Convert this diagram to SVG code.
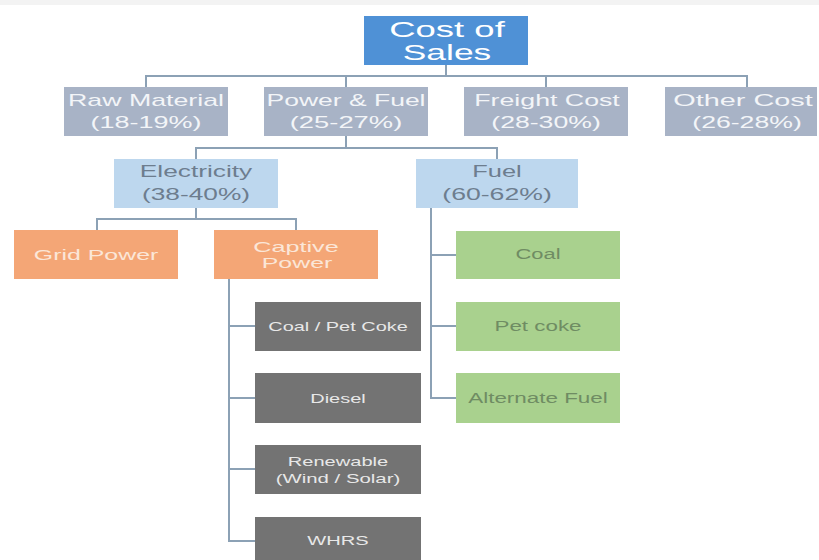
<svg xmlns="http://www.w3.org/2000/svg" width="819" height="560" viewBox="0 0 819 560">
<style>
text{font-family:"Liberation Sans",Arial,sans-serif;text-anchor:middle}
.conn{fill:none;stroke:#8ca1b5;stroke-width:2}
.top rect{fill:#4f91d6}
.top text{fill:#ffffff;font-size:22px}
.l2 rect{fill:#a8b3c6}
.l2 text{fill:#f3f5f8;font-size:16px}
.l3 rect{fill:#bdd7ee}
.l3 text{fill:#6d7d8e;font-size:17px}
.or rect{fill:#f4a676}
.or text{fill:#fbe6d8;font-size:15px}
.dk rect{fill:#737373}
.dk text{fill:#e8e8e8;font-size:13px}
.gr rect{fill:#a9d18e}
.gr text{fill:#6f8c63;font-size:15px}
</style>
<rect x="0" y="0" width="819" height="560" fill="#ffffff"/>
<rect x="0" y="0" width="819" height="5" fill="#f3f3f3"/>
<g id="connectors">
<path class="conn" d="M446 65V76M146 87V76H747V87M346 76V87M546 76V87"/>
<path class="conn" d="M346 136V148M196 159V148H497V159"/>
<path class="conn" d="M196 208V219M97 230V219H296V230"/>
<path class="conn" d="M229 279V541H255M229 326H255M229 398H255M229 469H255"/>
<path class="conn" d="M431 208V398H456M431 255H456M431 326H456"/>
</g>
<g id="cost-of-sales" class="top"><rect x="364" y="16" width="164" height="49"/>
<text transform="translate(447 37) scale(1.5 1)" textLength="77" lengthAdjust="spacingAndGlyphs">Cost of</text>
<text transform="translate(447 60) scale(1.5 1)" textLength="59" lengthAdjust="spacingAndGlyphs">Sales</text></g>
<g id="raw-material" class="l2"><rect x="64" y="87" width="164" height="49"/>
<text transform="translate(146 106) scale(1.5 1)" textLength="104" lengthAdjust="spacingAndGlyphs">Raw Material</text>
<text transform="translate(146 128) scale(1.5 1)" textLength="74" lengthAdjust="spacingAndGlyphs">(18-19%)</text></g>
<g id="power-fuel" class="l2"><rect x="264" y="87" width="164" height="49"/>
<text transform="translate(346 106) scale(1.5 1)" textLength="106" lengthAdjust="spacingAndGlyphs">Power &amp; Fuel</text>
<text transform="translate(346 128) scale(1.5 1)" textLength="75" lengthAdjust="spacingAndGlyphs">(25-27%)</text></g>
<g id="freight-cost" class="l2"><rect x="464" y="87" width="164" height="49"/>
<text transform="translate(547 106) scale(1.5 1)" textLength="97" lengthAdjust="spacingAndGlyphs">Freight Cost</text>
<text transform="translate(546 128) scale(1.5 1)" textLength="73" lengthAdjust="spacingAndGlyphs">(28-30%)</text></g>
<g id="other-cost" class="l2"><rect x="665" y="87" width="152" height="49"/>
<text transform="translate(743 106) scale(1.5 1)" textLength="93" lengthAdjust="spacingAndGlyphs">Other Cost</text>
<text transform="translate(747 128) scale(1.5 1)" textLength="73" lengthAdjust="spacingAndGlyphs">(26-28%)</text></g>
<g id="electricity" class="l3"><rect x="114" y="159" width="164" height="49"/>
<text transform="translate(196 177) scale(1.5 1)" textLength="75" lengthAdjust="spacingAndGlyphs">Electricity</text>
<text transform="translate(196 200) scale(1.5 1)" textLength="72" lengthAdjust="spacingAndGlyphs">(38-40%)</text></g>
<g id="fuel" class="l3"><rect x="416" y="159" width="162" height="49"/>
<text transform="translate(497 177) scale(1.5 1)" textLength="33" lengthAdjust="spacingAndGlyphs">Fuel</text>
<text transform="translate(497 200) scale(1.5 1)" textLength="73" lengthAdjust="spacingAndGlyphs">(60-62%)</text></g>
<g id="grid-power" class="or"><rect x="14" y="230" width="164" height="49"/>
<text transform="translate(96 260) scale(1.5 1)" textLength="83" lengthAdjust="spacingAndGlyphs">Grid Power</text></g>
<g id="captive-power" class="or"><rect x="214" y="230" width="164" height="49"/>
<text transform="translate(296 252) scale(1.5 1)" textLength="57" lengthAdjust="spacingAndGlyphs" style="font-size:14px">Captive</text>
<text transform="translate(297 268) scale(1.5 1)" textLength="47" lengthAdjust="spacingAndGlyphs" style="font-size:14px">Power</text></g>
<g id="coal-pet-coke" class="dk"><rect x="255" y="302" width="166" height="49"/>
<text transform="translate(338 331) scale(1.5 1)" textLength="93" lengthAdjust="spacingAndGlyphs">Coal / Pet Coke</text></g>
<g id="diesel" class="dk"><rect x="255" y="373" width="166" height="50"/>
<text transform="translate(338 403) scale(1.5 1)" textLength="37" lengthAdjust="spacingAndGlyphs">Diesel</text></g>
<g id="renewable" class="dk"><rect x="255" y="445" width="166" height="49"/>
<text transform="translate(338 466) scale(1.5 1)" textLength="67" lengthAdjust="spacingAndGlyphs">Renewable</text>
<text transform="translate(338 483) scale(1.5 1)" textLength="83" lengthAdjust="spacingAndGlyphs">(Wind / Solar)</text></g>
<g id="whrs" class="dk"><rect x="255" y="517" width="166" height="50"/>
<text transform="translate(338 545) scale(1.5 1)" textLength="41" lengthAdjust="spacingAndGlyphs">WHRS</text></g>
<g id="coal" class="gr"><rect x="456" y="231" width="164" height="48"/>
<text transform="translate(538 259) scale(1.5 1)" textLength="30" lengthAdjust="spacingAndGlyphs">Coal</text></g>
<g id="pet-coke" class="gr"><rect x="456" y="302" width="164" height="49"/>
<text transform="translate(538 331) scale(1.5 1)" textLength="58" lengthAdjust="spacingAndGlyphs">Pet coke</text></g>
<g id="alternate-fuel" class="gr"><rect x="456" y="373" width="164" height="50"/>
<text transform="translate(538 403) scale(1.5 1)" textLength="93" lengthAdjust="spacingAndGlyphs">Alternate Fuel</text></g>
</svg>
